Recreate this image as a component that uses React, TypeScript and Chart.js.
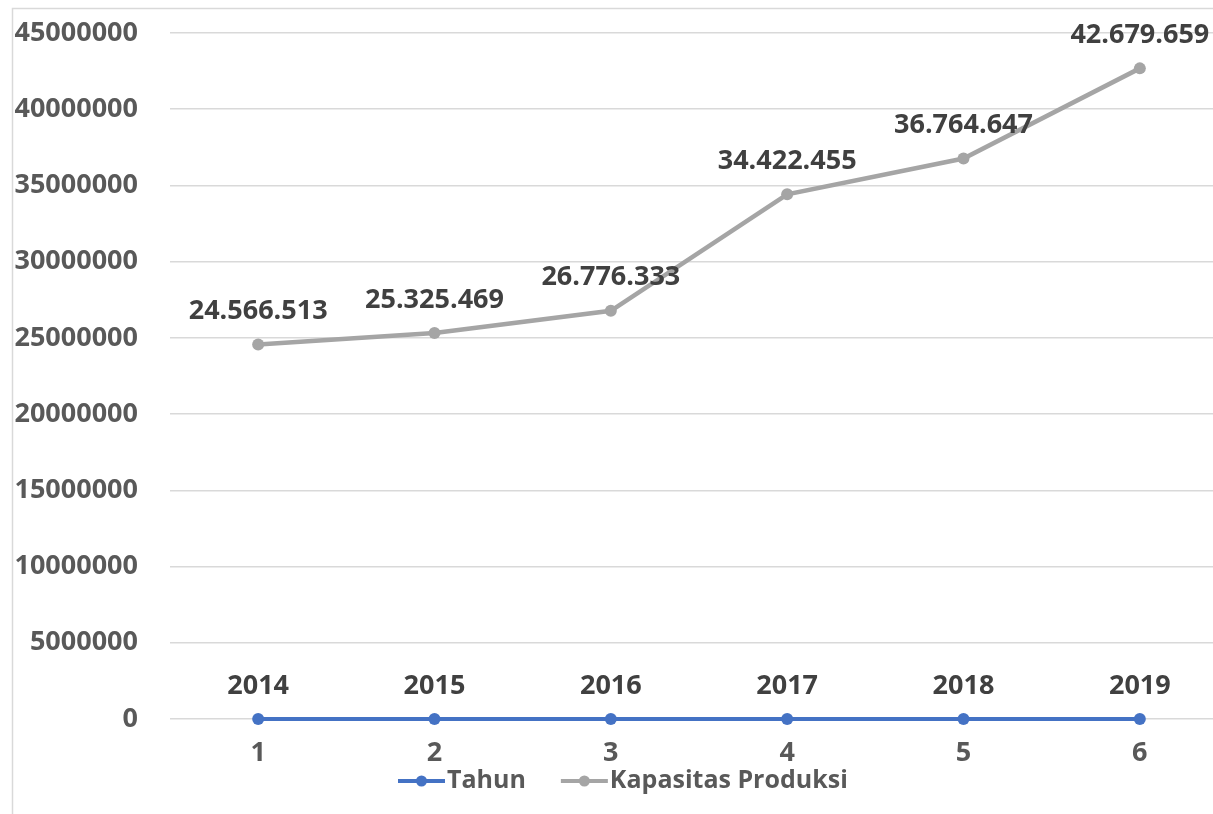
import React, { useEffect, useRef } from "react";
import { Chart, registerables } from "chart.js";

Chart.register(...registerables);

const categories = ["1", "2", "3", "4", "5", "6"];
const tahun = [2014, 2015, 2016, 2017, 2018, 2019];
const kapasitas = [24566513, 25325469, 26776333, 34422455, 36764647, 42679659];
const seriesNames = ["Tahun", "Kapasitas Produksi"];
const yMin = 0;
const yMax = 45000000;
const yStep = 5000000;

const FONT = '"Open Sans", "Noto Sans", sans-serif';

const fmtDots = (v: number) => String(v).replace(/\B(?=(\d{3})+(?!\d))/g, ".");

const framePlugin = {
  id: "frame",
  beforeDraw(chart: any) {
    const { ctx, width, height } = chart;
    ctx.save();
    ctx.fillStyle = "#ffffff";
    ctx.fillRect(0, 0, width, height);
    ctx.strokeStyle = "#d9d9d9";
    ctx.lineWidth = 1.5;
    ctx.beginPath();
    ctx.moveTo(12.5, height);
    ctx.lineTo(12.5, 8.5);
    ctx.lineTo(width, 8.5);
    ctx.stroke();
    ctx.restore();
  },
};

const labelsPlugin = {
  id: "pointLabels",
  afterDatasetsDraw(chart: any) {
    const ctx = chart.ctx;
    ctx.save();
    ctx.font = `bold 27px ${FONT}`;
    ctx.fillStyle = "#404040";
    ctx.textAlign = "center";
    ctx.textBaseline = "middle";
    chart.data.datasets.forEach((ds: any, i: number) => {
      const meta = chart.getDatasetMeta(i);
      meta.data.forEach((pt: any, j: number) => {
        const v = ds.data[j];
        const txt = i === 0 ? String(v) : fmtDots(v);
        ctx.fillText(txt, pt.x, pt.y - 33);
      });
    });
    ctx.restore();
  },
};

const legendPlugin = {
  id: "customLegend",
  afterDraw(chart: any) {
    const ctx = chart.ctx;
    ctx.save();
    ctx.font = `bold 25px ${FONT}`;
    ctx.textBaseline = "middle";
    ctx.textAlign = "left";
    let x = 398;
    const y = 781;
    chart.data.datasets.forEach((ds: any) => {
      ctx.strokeStyle = ds.borderColor;
      ctx.lineWidth = 4;
      ctx.beginPath();
      ctx.moveTo(x, y);
      ctx.lineTo(x + 47, y);
      ctx.stroke();
      ctx.fillStyle = ds.borderColor;
      ctx.beginPath();
      ctx.arc(x + 23.5, y, 5.5, 0, Math.PI * 2);
      ctx.fill();
      ctx.fillStyle = "#595959";
      ctx.fillText(ds.label, x + 49, y);
      const w = ctx.measureText(ds.label).width;
      x = x + 49 + w + 35;
    });
    ctx.restore();
  },
};

export default function App() {
  const ref = useRef<HTMLCanvasElement | null>(null);
  useEffect(() => {
    if (!ref.current) return;
    const chart = new Chart(ref.current, {
      type: "line",
      data: {
        labels: categories,
        datasets: [
          {
            label: seriesNames[0],
            data: tahun,
            borderColor: "#4472C4",
            backgroundColor: "#4472C4",
            borderWidth: 4,
            pointRadius: 6,
            pointBackgroundColor: "#4472C4",
            pointBorderWidth: 0,
            tension: 0,
            clip: false,
          },
          {
            label: seriesNames[1],
            data: kapasitas,
            borderColor: "#A5A5A5",
            backgroundColor: "#A5A5A5",
            borderWidth: 4.5,
            pointRadius: 6,
            pointBackgroundColor: "#A5A5A5",
            pointBorderWidth: 0,
            tension: 0,
            clip: false,
          },
        ],
      },
      options: {
        animation: false,
        responsive: false,
        devicePixelRatio: 1,
        layout: { padding: { top: 33, right: 12, bottom: 0, left: 0 } },
        plugins: {
          legend: { display: false },
          tooltip: { enabled: false },
        },
        scales: {
          x: {
            type: "category",
            offset: true,
            grid: { display: false, drawTicks: false },
            border: { display: false },
            ticks: {
              color: "#595959",
              font: { family: FONT, size: 27, weight: "bold" },
              padding: 18,
              maxRotation: 0,
            },
            afterFit: (s: any) => {
              s.height = 95;
              s.paddingLeft = 0;
              s.paddingRight = 0;
            },
          },
          y: {
            min: yMin,
            max: yMax,
            ticks: {
              stepSize: yStep,
              color: "#595959",
              font: { family: FONT, size: 27, weight: "bold" },
              padding: 32,
              callback: (v: any) => String(v),
            },
            grid: { color: "#d9d9d9", lineWidth: 1.5, drawTicks: false },
            border: { display: false },
            afterFit: (s: any) => {
              s.width = 170;
              s.paddingTop = 0;
              s.paddingBottom = 0;
            },
          },
        },
      },
      plugins: [framePlugin, labelsPlugin, legendPlugin],
    });
    return () => chart.destroy();
  }, []);
  return (
    <div
      style={{
        position: "fixed",
        left: 0,
        top: 0,
        width: 1213,
        height: 814,
        overflow: "hidden",
        background: "#fff",
      }}
    >
      <canvas ref={ref} width={1240} height={814} style={{ display: "block" }} />
    </div>
  );
}
